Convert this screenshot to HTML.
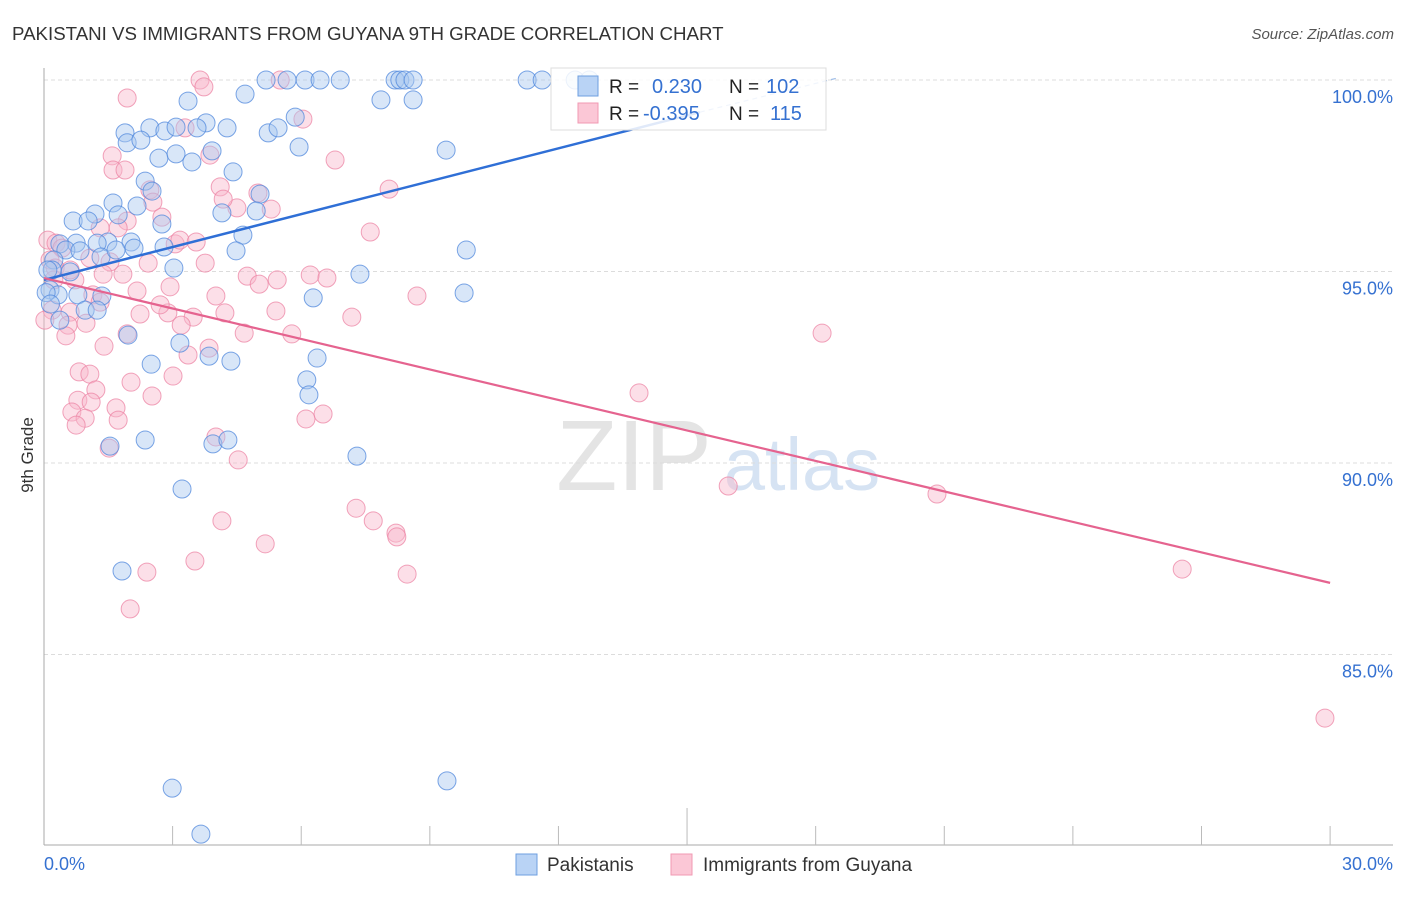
<!DOCTYPE html>
<html><head><meta charset="utf-8"><style>
body{margin:0;background:#fff;font-family:"Liberation Sans",sans-serif}
svg text{font-family:"Liberation Sans",sans-serif}
</style></head><body>
<svg id="chart" width="1406" height="892" xmlns="http://www.w3.org/2000/svg">
<text x="12" y="40" font-size="18.7" fill="#333">PAKISTANI VS IMMIGRANTS FROM GUYANA 9TH GRADE CORRELATION CHART</text>
<text x="1394" y="39" font-size="15" fill="#555" text-anchor="end" font-style="italic">Source: ZipAtlas.com</text>
<g>
<text x="634" y="490" font-size="100" fill="#e4e4e4" font-family="Liberation Serif" text-anchor="middle">ZIP</text>
<text x="802" y="490" font-size="74" fill="#d6e3f3" text-anchor="middle">atlas</text>
</g>
<g id="grid"></g>
<g id="axes"></g>
<g id="points"></g>
<g id="trends"></g>
<text transform="translate(33,455) rotate(-90)" font-size="17" fill="#333" text-anchor="middle">9th Grade</text>
<g>
<rect x="551" y="68" width="275" height="62" fill="#fff" fill-opacity="0.85" stroke="#ddd"/>
<rect x="578" y="76" width="20" height="20" fill="#b9d3f5" stroke="#6e9fe0"/>
<rect x="578" y="103" width="20" height="20" fill="#fbc7d6" stroke="#f09ab3"/>
<text x="609" y="93" font-size="19" fill="#222">R =</text>
<text x="652" y="93" font-size="20" fill="#3571d1">0.230</text>
<text x="729" y="93" font-size="19" fill="#222">N =</text>
<text x="766" y="93" font-size="20" fill="#3571d1">102</text>
<text x="609" y="120" font-size="19" fill="#222">R =</text>
<text x="643" y="120" font-size="20" fill="#3571d1">-0.395</text>
<text x="729" y="120" font-size="19" fill="#222">N =</text>
<text x="770" y="120" font-size="20" fill="#3571d1">115</text>
</g>
<g>
<rect x="516" y="854" width="21" height="21" fill="#b9d3f5" stroke="#6e9fe0"/>
<text x="547" y="871" font-size="19" fill="#333">Pakistanis</text>
<rect x="671" y="854" width="21" height="21" fill="#fbc7d6" stroke="#f09ab3"/>
<text x="703" y="871" font-size="19" fill="#333">Immigrants from Guyana</text>
</g>
</svg>
<script>
const yTicks=[100,95,90,85];
const yTickLabels=["100.0%","95.0%","90.0%","85.0%"];
const xTicks=[3,6,9,12,15,18,21,24,27,30];
const xEndLabels=["0.0%","30.0%"];
const blueX=[5.18,5.67,6.09,6.44,6.91,8.19,8.30,8.42,8.61,11.27,11.62,12.39,12.72,4.69,7.86,8.61,3.36,5.86,1.89,2.47,2.82,3.08,3.78,3.57,4.27,5.23,5.46,1.94,2.26,2.68,3.08,3.45,3.92,5.95,9.38,4.41,2.36,2.52,5.04,1.61,2.17,1.73,1.19,0.68,1.03,2.75,4.15,4.95,4.64,2.03,1.49,4.48,2.80,2.10,1.24,0.75,0.37,0.51,0.84,1.33,1.68,3.03,9.85,7.37,0.23,0.19,0.09,0.61,0.14,0.33,0.79,1.35,6.28,9.80,0.96,1.24,0.37,1.96,3.17,6.37,2.50,3.85,4.36,6.13,6.18,1.54,2.36,3.94,4.29,7.30,3.22,1.82,2.99,9.40,3.66,0.05,0.15];
const blueY=[100,100,100,100,100,100,100,100,100,100,100,100,100,99.63,99.48,99.48,99.45,99.03,98.62,98.75,98.67,98.77,98.88,98.75,98.75,98.62,98.75,98.36,98.43,97.96,98.07,97.86,98.15,98.25,98.17,97.60,97.36,97.10,97.02,96.79,96.71,96.48,96.50,96.32,96.32,96.24,96.53,96.58,95.95,95.77,95.77,95.54,95.64,95.61,95.74,95.74,95.72,95.56,95.54,95.38,95.56,95.09,95.56,94.93,95.30,95.04,95.04,94.99,94.52,94.39,94.39,94.36,94.31,94.44,93.99,93.99,93.73,93.34,93.13,92.74,92.58,92.79,92.66,92.17,91.78,90.44,90.60,90.50,90.60,90.18,89.32,87.18,81.51,81.70,80.31,94.45,94.15];
const pinkX=[3.64,3.73,5.51,1.94,6.04,3.29,3.87,6.79,1.59,1.61,1.89,8.05,4.11,2.47,4.99,5.30,4.50,4.18,2.54,2.75,1.94,1.31,1.73,7.61,0.09,0.28,0.42,1.07,1.54,2.43,3.76,0.14,0.26,0.72,1.38,1.84,4.74,5.02,5.44,6.21,6.60,0.23,1.14,2.17,2.94,4.01,8.70,0.19,0.61,2.24,2.89,3.48,4.22,5.41,7.18,0.56,0.98,0.51,1.94,3.20,4.67,5.78,18.15,1.40,3.85,3.36,0.82,2.03,3.01,1.07,1.21,2.52,0.79,1.10,1.68,0.65,0.96,1.73,0.75,6.11,6.51,13.88,4.01,1.52,4.53,7.28,7.68,8.21,8.23,4.15,5.16,15.96,20.83,3.52,2.40,8.47,2.01,26.55,29.88,0.02,0.61,1.31,3.06,3.17,3.55,2.71];
const pinkY=[100,99.82,100,99.53,98.98,98.75,98.04,97.91,98.02,97.65,97.65,97.15,97.21,97.13,97.05,96.63,96.66,96.89,96.81,96.42,96.32,96.14,96.14,96.03,95.82,95.74,95.61,95.35,95.25,95.22,95.22,95.30,95.09,94.78,94.93,94.93,94.88,94.67,94.78,94.91,94.83,94.78,94.39,94.49,94.60,94.36,94.36,93.99,93.94,93.89,93.92,93.81,93.92,93.97,93.81,93.60,93.65,93.32,93.37,93.60,93.39,93.37,93.39,93.05,93.00,92.82,92.38,92.11,92.27,92.32,91.91,91.75,91.64,91.59,91.44,91.33,91.17,91.12,90.99,91.15,91.28,91.83,90.68,90.39,90.08,88.82,88.49,88.17,88.07,88.49,87.89,89.40,89.19,87.44,87.15,87.10,86.19,87.23,83.34,93.73,95.04,94.20,95.72,95.82,95.77,94.13];
const blueTrend=[[0,94.78],[15.3,99.16]];
const blueTrendExt=[[15.3,99.16],[18.5,100.05]];
const pinkTrend=[[0,94.83],[30,86.87]];

const NS="http://www.w3.org/2000/svg";
const X0=44,XS=42.87,Y0=80,YS=38.3;
function sx(v){return X0+v*XS;}
function sy(v){return Y0+(100-v)*YS;}
function mk(tag,attrs,parent){const e=document.createElementNS(NS,tag);for(const k in attrs)e.setAttribute(k,attrs[k]);parent.appendChild(e);return e;}
const grid=document.getElementById('grid'),axes=document.getElementById('axes'),pts=document.getElementById('points'),tr=document.getElementById('trends');
yTicks.forEach((t,i)=>{
  const l=mk('line',{x1:X0,x2:1393,y1:sy(t),y2:sy(t),stroke:'#dcdcdc','stroke-dasharray':'4,3'},grid);
  
  
  const tx=mk('text',{x:1393,y:sy(t)+23,'font-size':18,fill:'#3571d1','text-anchor':'end'},grid);
  tx.textContent=yTickLabels[i];
  
  
});
const ya=mk('line',{x1:X0,x2:X0,y1:68,y2:845,stroke:'#aaa'},axes);


const xa=mk('line',{x1:X0,x2:1393,y1:845,y2:845,stroke:'#aaa'},axes);


xTicks.forEach(t=>{
  const l=mk('line',{x1:sx(t),x2:sx(t),y1:(t===15?808:826),y2:845,stroke:'#bbb'},axes);
  
  
});
const xl0=mk('text',{x:X0,y:870,'font-size':18,fill:'#3571d1'},axes);xl0.textContent=xEndLabels[0];


const xl1=mk('text',{x:1393,y:870,'font-size':18,fill:'#3571d1','text-anchor':'end'},axes);xl1.textContent=xEndLabels[1];


function dots(xs,ys,fill,stroke,name){
  xs.forEach((x,i)=>{
    const c=mk('circle',{cx:sx(x),cy:sy(ys[i]),r:9,fill:fill,'fill-opacity':0.45,stroke:stroke,'stroke-opacity':0.75,'stroke-width':1},pts);
    
    
  });
}
dots(pinkX,pinkY,'#f9b8cb','#ec84a4','point-guyana');
dots(blueX,blueY,'#a8c8f0','#4f87dc','point-pakistanis');
function line(p,stroke,w,dash,name){
  const l=mk('line',{x1:sx(p[0][0]),y1:sy(p[0][1]),x2:sx(p[1][0]),y2:sy(p[1][1]),stroke:stroke,'stroke-width':w},tr);
  if(dash)l.setAttribute('stroke-dasharray',dash);
  
  
}
line(blueTrend,'#2f6fd6',2.5,null,'trend-line-pakistanis');
line(blueTrendExt,'#9fbde8',1.2,'5,4','trend-line-pakistanis-extension');
line(pinkTrend,'#e5638f',2.2,null,'trend-line-guyana');
</script>
</body></html>
